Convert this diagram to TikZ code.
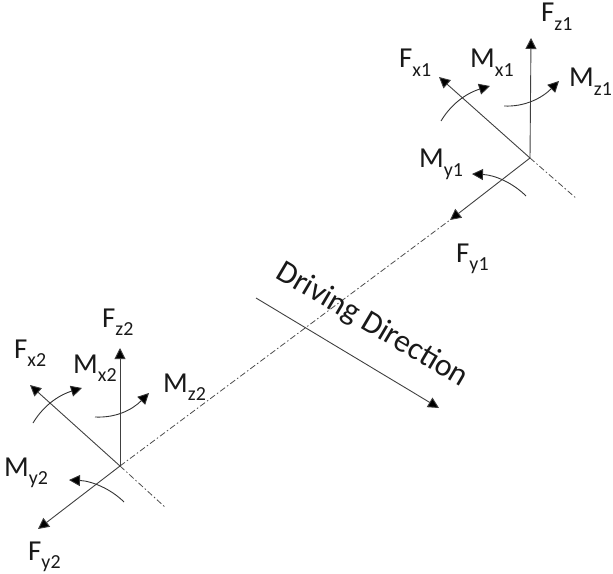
\documentclass[tikz,border=0pt]{standalone}
\usepackage{fontspec}
\setmainfont{Carlito}
\usetikzlibrary{arrows.meta}
\tikzset{
  x=1bp,y=-1bp,
  force/.style={draw=black!75,line width=0.9pt,-{Triangle[length=11bp,width=11bp,fill=black]}},
  moment/.style={draw=black!80,line width=0.9pt,-{Triangle[length=11bp,width=11bp,fill=black]}},
  axisline/.style={draw=black!70,line width=0.8pt,dash pattern=on 6bp off 2.5bp on 1.5bp off 2.5bp},
  lbl/.style={inner sep=0pt,anchor=base west,font=\fontsize{29}{31}\selectfont,text=black!90},
  drive/.style={inner sep=0pt,font=\fontsize{32}{34}\selectfont,text=black!90}
}
\newcommand{\subs}[2]{#1\raisebox{-0.28em}{\fontsize{20}{20}\selectfont #2}}
\begin{document}
\begin{tikzpicture}
\useasboundingbox (0,0) rectangle (613,574);
\coordinate (o1) at (530,158);
\coordinate (fz1) at (531,38);
\coordinate (fx1) at (439,77);
\coordinate (fy1) at (450,220);
\coordinate (e1) at (577,199);
\coordinate (o2) at (120,466);
\coordinate (fz2) at (120,348);
\coordinate (fx2) at (30,385);
\coordinate (fy2) at (38,529);
\coordinate (e2) at (166,508);
\draw[axisline] (o1) -- (e1);
\draw[axisline] (o2) -- (e2);
\draw[axisline] (o2) -- (fy1);
\draw[force] (o1) -- (fz1);
\draw[force] (o1) -- (fx1);
\draw[force] (o1) -- (fy1);
\draw[force] (o2) -- (fz2);
\draw[force] (o2) -- (fx2);
\draw[force] (o2) -- (fy2);
\coordinate (mx1a) at (441,121); \coordinate (mx1b) at (490,86);
\coordinate (mz1a) at (504,106); \coordinate (mz1b) at (559,81);
\coordinate (my1a) at (526,196); \coordinate (my1b) at (472,174);
\coordinate (mx2a) at (33,423); \coordinate (mx2b) at (82,388);
\coordinate (mz2a) at (95,417); \coordinate (mz2b) at (149,393);
\coordinate (my2a) at (124,502); \coordinate (my2b) at (69,480);
\draw[moment] (mx1a) .. controls (453,101) and (470,92) .. (mx1b);
\draw[moment] (mz1a) .. controls (525,107) and (542,98) .. (mz1b);
\draw[moment] (my1a) .. controls (513,183) and (495,175) .. (my1b);
\draw[moment] (mx2a) .. controls (45,403) and (62,394) .. (mx2b);
\draw[moment] (mz2a) .. controls (116,418) and (132,410) .. (mz2b);
\draw[moment] (my2a) .. controls (111,489) and (92,481) .. (my2b);
\coordinate (d1) at (256,298);
\coordinate (d2) at (439,408);
\draw[force] (d1) -- (d2);
\node[drive,rotate=-30.5] (dd) at (372,325) {Driving Direction};
\node[lbl] (lfz1) at (541,22) {\subs{F}{z1}};
\node[lbl] (lfx1) at (399,68) {\subs{F}{x1}};
\node[lbl] (lmx1) at (470,68) {\subs{M}{x1}};
\node[lbl] (lmz1) at (569,87) {\subs{M}{z1}};
\node[lbl] (lmy1) at (419,168) {\subs{M}{y1}};
\node[lbl] (lfy1) at (456,262) {\subs{F}{y1}};
\node[lbl] (lfz2) at (102,327) {\subs{F}{z2}};
\node[lbl] (lfx2) at (14,358) {\subs{F}{x2}};
\node[lbl] (lmx2) at (73,373) {\subs{M}{x2}};
\node[lbl] (lmz2) at (163,392) {\subs{M}{z2}};
\node[lbl] (lmy2) at (4,476) {\subs{M}{y2}};
\node[lbl] (lfy2) at (28,560) {\subs{F}{y2}};
\end{tikzpicture}
\end{document}
